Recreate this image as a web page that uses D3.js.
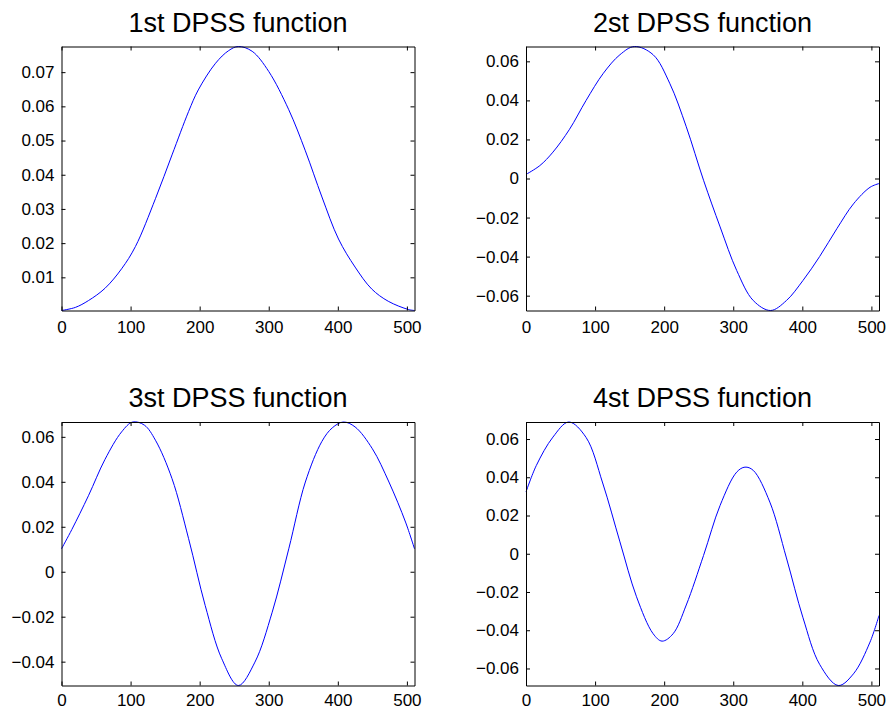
<!DOCTYPE html>
<html>
<head>
<meta charset="utf-8">
<script src="https://cdn.jsdelivr.net/npm/d3@7"></script>
<style>
  html, body { margin: 0; padding: 0; background: #fff; }
  svg { display: block; font-family: "Liberation Sans", Arial, Helvetica, sans-serif; }
</style>
</head>
<body>
<div id="chart"></div>
<script>
// sample index (0..511) and value
const titles = ["1st DPSS function", "2st DPSS function", "3st DPSS function", "4st DPSS function"];

const idx1 = [0, 20, 39, 63, 87, 107, 136, 160, 184, 198, 223, 242, 256, 276, 300, 329, 353, 377, 401, 425, 449, 473, 502, 511];
const val1 = [0.0003, 0.0012, 0.0032, 0.0068, 0.0125, 0.0190, 0.0330, 0.0458, 0.0585, 0.0648, 0.0726, 0.0763, 0.0775, 0.0761, 0.0702, 0.0590, 0.0470, 0.0335, 0.0212, 0.0130, 0.0066, 0.0030, 0.0006, 0.0003];

const idx2 = [0, 20, 39, 63, 87, 112, 136, 157, 184, 208, 232, 257, 281, 305, 329, 354, 377, 401, 425, 450, 474, 498, 511];
const val2 = [0.0021, 0.0066, 0.0135, 0.0252, 0.0400, 0.0539, 0.0634, 0.0676, 0.0634, 0.0488, 0.0265, -0.0009, -0.0248, -0.0471, -0.0625, -0.0676, -0.0625, -0.0522, -0.0400, -0.0257, -0.0130, -0.0045, -0.0026];

const idx3 = [0, 15, 39, 63, 87, 103, 120, 136, 160, 184, 208, 232, 256, 280, 305, 329, 353, 377, 392, 408, 425, 450, 474, 498, 511];
const val3 = [0.0102, 0.0188, 0.0338, 0.0500, 0.0622, 0.0666, 0.0652, 0.0585, 0.0414, 0.0147, -0.0150, -0.0387, -0.0506, -0.0402, -0.0180, 0.0102, 0.0399, 0.0580, 0.0640, 0.0666, 0.0644, 0.0547, 0.0399, 0.0221, 0.0102];

const idx4 = [0, 15, 39, 62, 87, 111, 136, 160, 184, 197, 213, 232, 257, 281, 305, 317, 329, 353, 377, 401, 425, 452, 474, 498, 511];
const val4 = [0.0323, 0.0462, 0.0610, 0.0689, 0.0608, 0.0370, 0.0062, -0.0225, -0.0418, -0.0457, -0.0418, -0.0268, -0.0009, 0.0253, 0.0427, 0.0453, 0.0436, 0.0270, -0.0022, -0.0335, -0.0578, -0.0689, -0.0628, -0.0462, -0.0323];

const xTicks = [0, 100, 200, 300, 400, 500];
const yTicks1 = [0.01, 0.02, 0.03, 0.04, 0.05, 0.06, 0.07];
const yTicks2 = [-0.06, -0.04, -0.02, 0, 0.02, 0.04, 0.06];
const yTicks3 = [-0.04, -0.02, 0, 0.02, 0.04, 0.06];
const yTicks4 = [-0.06, -0.04, -0.02, 0, 0.02, 0.04, 0.06];

const width = 887, height = 710;

const svg = d3.select("#chart").append("svg")
    .attr("width", width)
    .attr("height", height)
    .attr("viewBox", `0 0 ${width} ${height}`);

// panel boxes
const panels = [
    { idx: idx1, val: val1, yTicks: yTicks1, left: 61.5, right: 414.5, top: 46.5, bottom: 310.5 },
    { idx: idx2, val: val2, yTicks: yTicks2, left: 526, right: 879, top: 46.5, bottom: 310.5 },
    { idx: idx3, val: val3, yTicks: yTicks3, left: 61.5, right: 414.5, top: 422, bottom: 685.5 },
    { idx: idx4, val: val4, yTicks: yTicks4, left: 526, right: 879, top: 422, bottom: 685.5 }
];

const fmt = d => d === 0 ? "0" : d3.format(".2f")(d);

panels.forEach((p, i) => {
    const data = p.idx.map((x, k) => ({ x: x, y: p.val[k] }));

    const xScale = d3.scaleLinear().domain([0, 511]).range([p.left, p.right]);
    const yScale = d3.scaleLinear().domain(d3.extent(p.val)).range([p.bottom, p.top]);

    const g = svg.append("g");

    // line
    const line = d3.line()
        .x(d => xScale(d.x))
        .y(d => yScale(d.y))
        .curve(d3.curveCatmullRom.alpha(0.5));

    g.append("path")
        .datum(data)
        .attr("fill", "none")
        .attr("stroke", "#0000ff")
        .attr("stroke-width", 1)
        .attr("d", line);

    // axes, ticks point inward like matlab
    const pad = i < 2 ? 10 : 8; // bottom row sits right at the page edge
    const bottomAxis = d3.axisBottom(xScale).tickValues(xTicks).tickSizeInner(-4).tickSizeOuter(0).tickPadding(pad);
    const topAxis = d3.axisTop(xScale).tickValues(xTicks).tickSizeInner(-4).tickSizeOuter(0).tickFormat("");
    const leftAxis = d3.axisLeft(yScale).tickValues(p.yTicks).tickSizeInner(-4).tickSizeOuter(0).tickPadding(7).tickFormat(fmt);
    const rightAxis = d3.axisRight(yScale).tickValues(p.yTicks).tickSizeInner(-4).tickSizeOuter(0).tickFormat("");

    g.append("g").attr("transform", `translate(0,${p.bottom})`).call(bottomAxis);
    g.append("g").attr("transform", `translate(0,${p.top})`).call(topAxis);
    g.append("g").attr("transform", `translate(${p.left},0)`).call(leftAxis);
    g.append("g").attr("transform", `translate(${p.right},0)`).call(rightAxis);

    g.selectAll(".tick text")
        .attr("font-size", 17)
        .attr("font-family", "'Liberation Sans', Arial, sans-serif")
        .attr("fill", "#000");
    g.selectAll(".domain, .tick line").attr("stroke", "#000");

    g.append("text")
        .attr("x", (p.left + p.right) / 2)
        .attr("y", p.top - 15)
        .attr("text-anchor", "middle")
        .attr("font-size", 27)
        .attr("fill", "#000")
        .text(titles[i]);
});
</script>
</body>
</html>
